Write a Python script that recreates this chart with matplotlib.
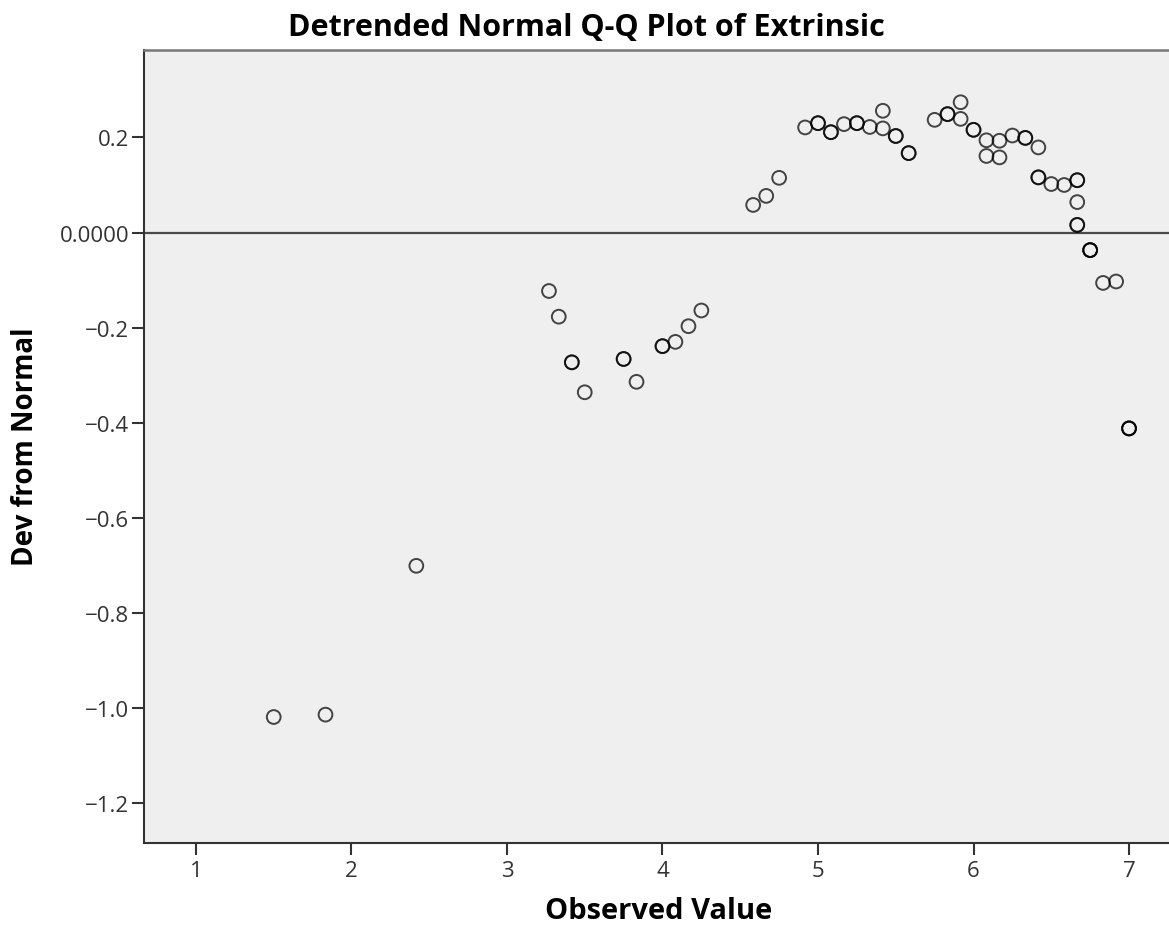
import matplotlib
matplotlib.use('Agg')
import matplotlib.pyplot as plt

# observed value of Extrinsic and its deviation from the normal line
observed = [1.5, 1.833, 2.417, 3.27, 3.333, 3.417, 3.5, 3.75, 3.833, 4.0,
            4.083, 4.167, 4.25, 4.583, 4.667, 4.75, 4.917, 5.0, 5.083, 5.167,
            5.25, 5.333, 5.417, 5.417, 5.5, 5.583, 5.75, 5.833, 5.917, 5.917,
            6.0, 6.083, 6.083, 6.167, 6.167, 6.25, 6.333, 6.417, 6.417, 6.5,
            6.583, 6.667, 6.667, 6.667, 6.75, 6.833, 6.917, 7.0]
deviation = [-1.019, -1.014, -0.701, -0.123, -0.177, -0.273, -0.336, -0.266, -0.314, -0.239,
             -0.230, -0.197, -0.164, 0.058, 0.077, 0.115, 0.221, 0.230, 0.211, 0.228,
             0.230, 0.222, 0.256, 0.219, 0.203, 0.167, 0.237, 0.249, 0.274, 0.239,
             0.216, 0.194, 0.161, 0.193, 0.158, 0.204, 0.199, 0.179, 0.116, 0.102,
             0.100, 0.110, 0.064, 0.016, -0.037, -0.106, -0.103, -0.412]
# cases stacked on each point (overlapping rings print darker)
cases = [1, 1, 1, 1, 1, 2, 1, 2, 1, 2,
         1, 1, 1, 1, 1, 1, 1, 2, 2, 1,
         2, 1, 1, 1, 2, 2, 1, 2, 1, 1,
         2, 1, 1, 1, 1, 1, 2, 1, 2, 1,
         1, 2, 1, 2, 3, 1, 1, 3]

x_ticks = [1, 2, 3, 4, 5, 6, 7]
y_ticks = [-1.2, -1.0, -0.8, -0.6, -0.4, -0.2, 0.0, 0.2]
y_labels = ['\u22121.2', '\u22121.0', '\u22120.8', '\u22120.6', '\u22120.4', '\u22120.2', '0.0000', '0.2']

plt.rcParams['font.family'] = ['Open Sans', 'DejaVu Sans']

fig = plt.figure(figsize=(11.69, 9.28), dpi=100, facecolor='white')
ax = fig.add_axes([0.1236, 0.0905, 1 - 0.1236, 0.8545])
ax.set_facecolor('#efefef')

# repeat each point by its case count
xs, ys = [], []
for x, y, n in zip(observed, deviation, cases):
    xs += [x] * n
    ys += [y] * n

ax.axhline(0, color='#4a4a4a', lw=1.6, zorder=1)
ax.scatter(xs, ys, s=98, facecolors='none', edgecolors=(0, 0, 0, 0.72),
           linewidths=1.4, zorder=2)

ax.set_xlim(0.669, 7.257)
ax.set_ylim(-1.284, 0.3838)

ax.set_xticks(x_ticks)
ax.set_xticklabels([str(t) for t in x_ticks])
ax.set_yticks(y_ticks)
ax.set_yticklabels(y_labels)
ax.tick_params(axis='both', length=8.6, width=1.5, color='#333333',
               labelcolor='#333333', labelsize=16)
ax.tick_params(axis='y', pad=2.5)
ax.tick_params(axis='x', pad=3.5)

for side in ['left', 'bottom']:
    ax.spines[side].set_color('#333333')
    ax.spines[side].set_linewidth(1.5)
ax.spines['top'].set_color('#777777')
ax.spines['top'].set_linewidth(1.8)
ax.spines['right'].set_visible(False)

fig.text(0.502, 1 - 28 / 928, 'Detrended Normal Q-Q Plot of Extrinsic',
         ha='center', va='center', fontsize=22, fontweight='bold')
fig.text(659 / 1169, 1 - 912 / 928, 'Observed Value',
         ha='center', va='center', fontsize=21, fontweight='bold')
fig.text(26 / 1169, 1 - 447 / 928, 'Dev from Normal', rotation=90,
         ha='center', va='center', fontsize=20, fontweight='bold')

fig.savefig('out.png', dpi=100, facecolor='white')
